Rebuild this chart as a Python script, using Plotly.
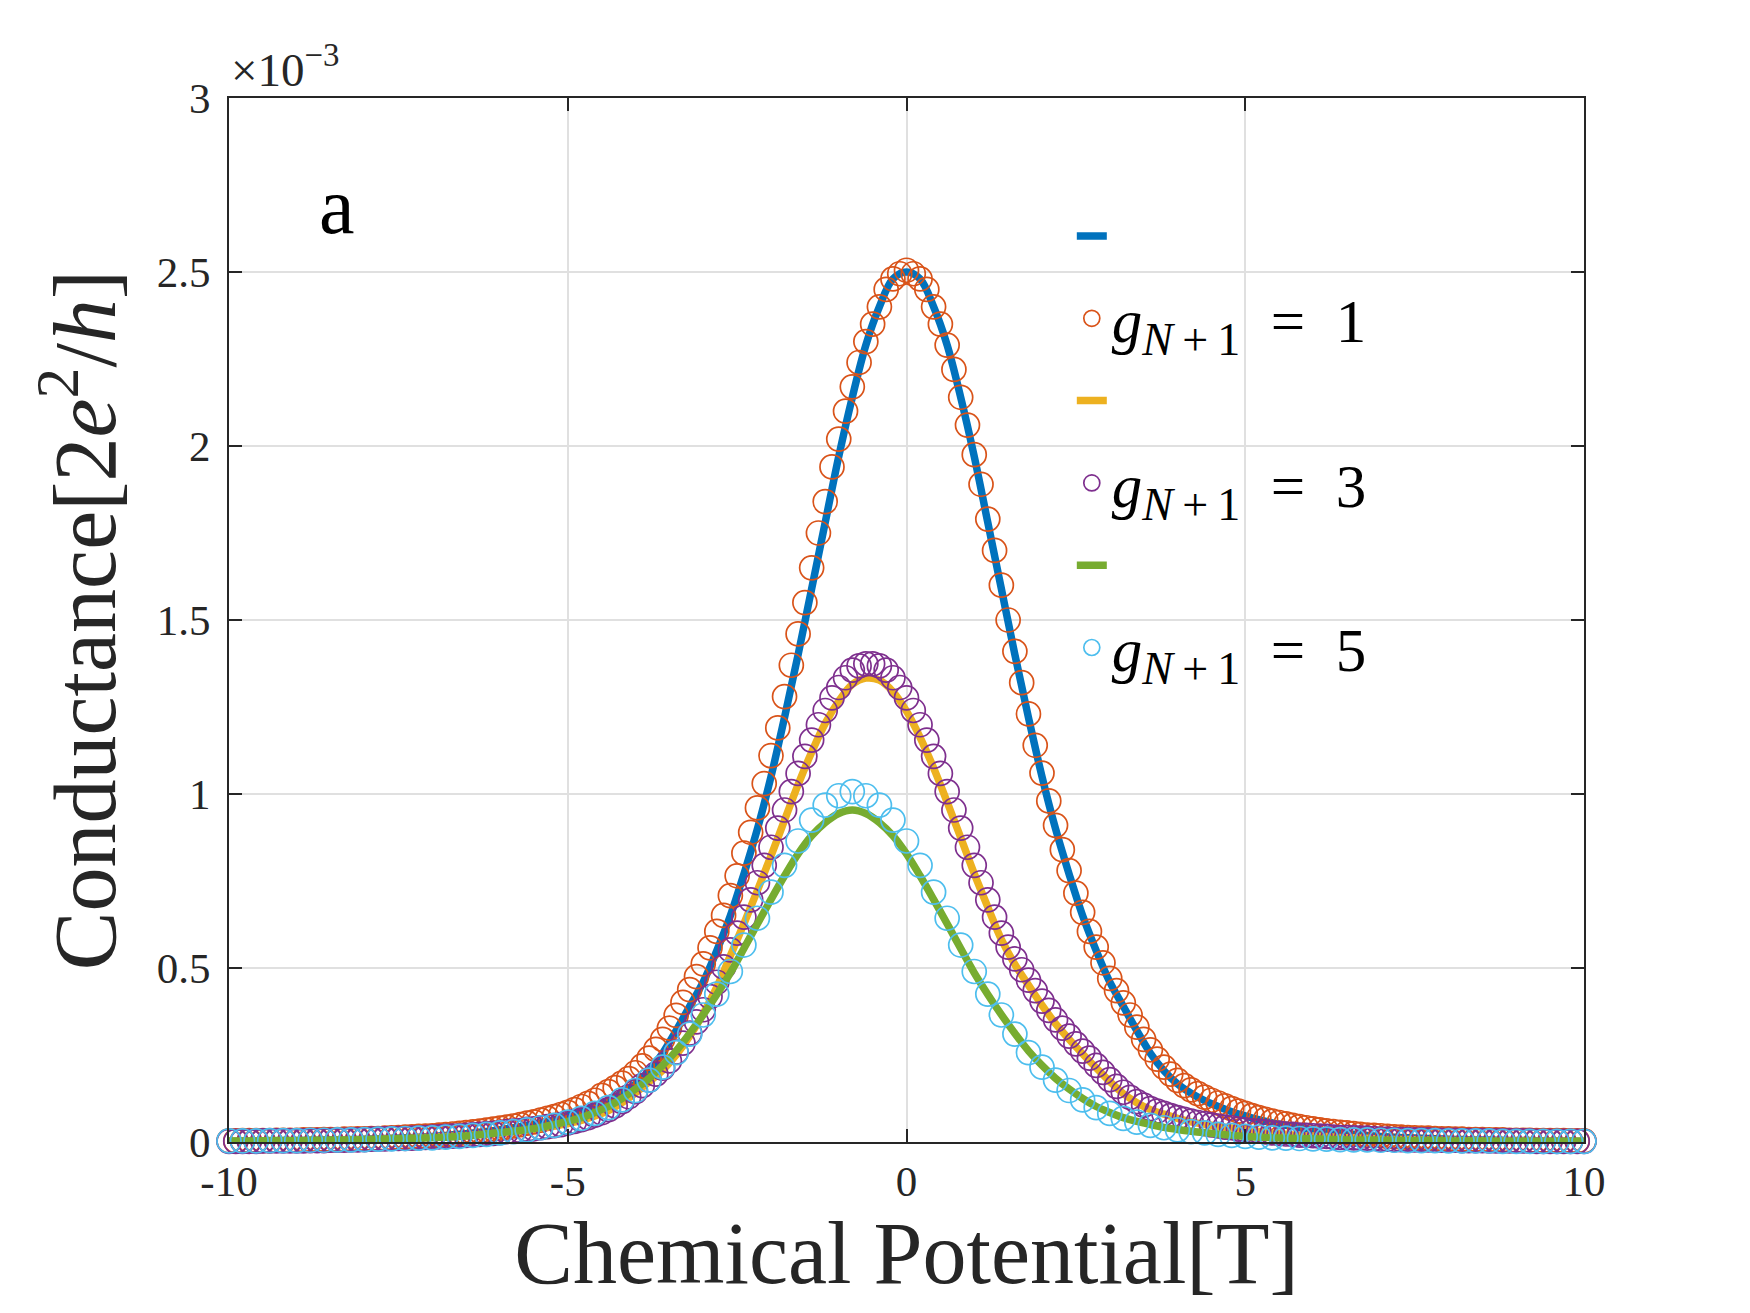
import plotly.graph_objects as go

# ---------------- data (conductance in units of 1e-3 * 2e^2/h) ----------------
x_fine = [round(-10 + 0.1 * i, 1) for i in range(201)]    # marker series grid
x_coarse = [round(-10 + 0.2 * i, 1) for i in range(101)]  # line / cyan grid

# blue line (g=1, line)
blue_line = [
    .002, .003, .003, .003, .004, .004, .005, .006, .006, .007,
    .008, .009, .011, .012, .014, .016, .019, .022, .026, .030,
    .035, .041, .048, .055, .064, .075, .087, .102, .119, .140,
    .167, .205, .255, .320, .390, .460, .550, .650, .770, .900,
    1.050, 1.220, 1.400, 1.590, 1.780, 1.970, 2.140, 2.290, 2.400, 2.480,
    2.500,
    2.480, 2.400, 2.290, 2.140, 1.970, 1.780, 1.590, 1.400, 1.220, 1.050,
    .900, .770, .650, .550, .460, .390, .320, .255, .205, .167,
    .140, .119, .102, .087, .075, .064, .055, .048, .041, .035,
    .030, .026, .022, .019, .016, .014, .012, .011, .009, .008,
    .007, .006, .006, .005, .004, .004, .003, .003, .003, .002,
]

# orange circles (g_{N+1}=1)
orange_mk = [
    .003, .003, .004, .004, .004, .004, .004, .005, .005, .005,
    .005, .006, .006, .006, .007, .007, .007, .008, .008, .009,
    .009, .010, .010, .011, .012, .013, .014, .015, .016, .017,
    .018, .020, .021, .023, .025, .027, .029, .031, .034, .037,
    .040, .043, .046, .050, .054, .058, .063, .068, .073, .079,
    .085, .093, .102, .111, .120, .134, .145, .156, .169, .182,
    .199, .219, .241, .266, .295, .327, .364, .401, .438, .475,
    .512, .558, .605, .651, .708, .765, .830, .890, .960, 1.030,
    1.110, 1.190, 1.280, 1.370, 1.460, 1.550, 1.650, 1.750, 1.840, 1.940,
    2.020, 2.100, 2.170, 2.240, 2.300, 2.350, 2.400, 2.450, 2.480, 2.495,
    2.505, 2.495, 2.480, 2.450, 2.400, 2.350, 2.290, 2.220, 2.140, 2.060,
    1.975, 1.890, 1.790, 1.700, 1.600, 1.500, 1.410, 1.320, 1.230, 1.140,
    1.060, .980, .910, .840, .780, .715, .660, .605, .560, .515,
    .470, .435, .400, .365, .330, .295, .265, .238, .215, .195,
    .177, .162, .150, .139, .129, .120, .112, .104, .096, .089,
    .082, .076, .070, .065, .060, .056, .052, .048, .044, .041,
    .038, .035, .032, .030, .028, .026, .024, .022, .020, .019,
    .018, .016, .015, .014, .013, .012, .011, .011, .010, .009,
    .009, .008, .008, .007, .007, .007, .006, .006, .006, .005,
    .005, .005, .005, .004, .004, .004, .004, .004, .003, .003,
    .003,
]

# yellow line (g=3, line)
yellow_line = [
    .002, .002, .002, .003, .003, .003, .004, .004, .005, .006,
    .007, .008, .010, .010, .012, .014, .016, .017, .020, .023,
    .026, .030, .035, .040, .046, .053, .062, .075, .090, .113,
    .141, .173, .206, .250, .304, .369, .445, .535, .627, .723,
    .822, .925, 1.027, 1.120, 1.203, 1.267, 1.315, 1.333,
    1.327, 1.294, 1.238, 1.163, 1.075, .977, .875, .771, .675, .582,
    .510, .451, .393, .340, .295, .253, .213, .174, .139, .113,
    .093, .080, .068, .058, .051, .045, .040, .034, .030, .025,
    .022, .019, .017, .016, .013, .012, .011, .008, .007, .007,
    .006, .005, .005, .004, .004, .003, .003, .003, .003, .002,
    .002, .002, .002,
]

# purple circles (g_{N+1}=3)
purple_mk = [
    .002, .002, .002, .002, .002, .003, .003, .003, .003, .003,
    .003, .003, .004, .004, .004, .005, .005, .005, .006, .006,
    .007, .008, .008, .009, .010, .010, .010, .011, .012, .013,
    .014, .015, .016, .017, .018, .019, .021, .022, .024, .025,
    .027, .030, .031, .033, .036, .038, .041, .044, .047, .050,
    .055, .059, .064, .070, .077, .084, .093, .104, .116, .130,
    .145, .162, .178, .195, .212, .233, .258, .284, .313, .345,
    .380, .418, .459, .503, .552, .600, .646, .696, .745, .795,
    .847, .902, .954, 1.007, 1.059, 1.108, 1.155, 1.199, 1.240, 1.276,
    1.306, 1.334, 1.356, 1.368, 1.374,
    1.374, 1.368, 1.356, 1.334, 1.306, 1.276, 1.240, 1.199, 1.155, 1.108,
    1.059, 1.007, .954, .902, .847, .795, .745, .696, .646, .600,
    .560, .526, .495, .465, .435, .405, .378, .351, .327, .304,
    .282, .261, .241, .220, .200, .179, .160, .143, .128, .116,
    .106, .096, .089, .082, .076, .070, .065, .060, .056, .053,
    .049, .046, .043, .041, .037, .035, .032, .031, .029, .026,
    .025, .023, .022, .020, .019, .018, .017, .016, .014, .013,
    .013, .012, .011, .011, .010, .008, .008, .007, .007, .007,
    .006, .006, .006, .005, .005, .005, .005, .004, .004, .004,
    .004, .003, .003, .003, .003, .003, .003, .003, .002, .002,
    .002, .002, .002, .002, .002, .002,
]

# green line (g=5, line)
green_line = [
    .003, .003, .003, .004, .004, .004, .005, .005, .006, .006,
    .007, .008, .009, .010, .011, .012, .014, .016, .019, .023,
    .027, .031, .036, .042, .050, .059, .070, .085, .102, .125,
    .152, .183, .220, .262, .312, .366, .424, .486, .556, .627,
    .697, .765, .828, .880, .918, .944,
    .954,
    .944, .918, .880, .828, .765, .697, .627, .556, .486, .424,
    .366, .312, .262, .220, .183, .152, .125, .102, .085, .070,
    .059, .050, .042, .036, .031, .027, .023, .019, .016, .014,
    .012, .011, .010, .009, .008, .007, .006, .006, .005, .005,
    .004, .004, .004, .003, .003, .003, .003, .002, .002, .002,
    .002, .002, .002, .002,
]

# cyan circles (g_{N+1}=5)
cyan_mk = [
    .003, .003, .003, .004, .004, .004, .005, .005, .006, .006,
    .007, .008, .009, .010, .011, .012, .014, .016, .019, .022,
    .026, .030, .035, .041, .048, .057, .068, .082, .099, .121,
    .148, .178, .215, .257, .310, .365, .425, .490, .566, .643,
    .718, .795, .865, .925, .968, .995,
    1.007,
    .995, .968, .925, .865, .795, .718, .643, .566, .490, .425,
    .365, .310, .257, .215, .178, .148, .121, .099, .082, .068,
    .057, .048, .041, .035, .030, .026, .022, .019, .016, .014,
    .012, .011, .010, .009, .008, .007, .006, .006, .005, .005,
    .004, .004, .004, .003, .003, .003, .003, .002, .002, .002,
    .002, .002, .002, .002,
]

x_tickvals = [-10, -5, 0, 5, 10]
x_ticktext = ["-10", "-5", "0", "5", "10"]
y_tickvals = [0, 0.5, 1, 1.5, 2, 2.5, 3]
y_ticktext = ["0", "0.5", "1", "1.5", "2", "2.5", "3"]

NB = "\u00a0"
SUB = "<sub><span style='font-size:46px'><i>N</i>\u2009+\u20091</span></sub>"
EMPTY = NB + "<sub><span style='font-size:46px'>" + NB + "</span></sub>"
leg_names = [
    EMPTY,
    "<i>g</i>" + SUB + NB * 2 + "=" + NB * 2 + "1",
    EMPTY,
    "<i>g</i>" + SUB + NB * 2 + "=" + NB * 2 + "3",
    EMPTY,
    "<i>g</i>" + SUB + NB * 2 + "=" + NB * 2 + "5",
]

C_BLUE, C_ORANGE, C_YELLOW = "#0072BD", "#D95319", "#EDB120"
C_PURPLE, C_GREEN, C_CYAN = "#7E2F8E", "#77AC30", "#4DBEEE"
FONT = "Liberation Serif"
LW = 7.5
MS = 24

fig = go.Figure()
fig.add_trace(go.Scatter(x=x_coarse, y=blue_line, mode="lines", name=leg_names[0],
                         line=dict(color=C_BLUE, width=LW, shape="spline"), cliponaxis=False))
fig.add_trace(go.Scatter(x=x_fine, y=orange_mk, mode="markers", name=leg_names[1],
                         marker=dict(symbol="circle-open", size=MS, color=C_ORANGE,
                                     line=dict(width=1.7, color=C_ORANGE)), cliponaxis=False))
fig.add_trace(go.Scatter(x=x_coarse, y=yellow_line, mode="lines", name=leg_names[2],
                         line=dict(color=C_YELLOW, width=LW, shape="spline"), cliponaxis=False))
fig.add_trace(go.Scatter(x=x_fine, y=purple_mk, mode="markers", name=leg_names[3],
                         marker=dict(symbol="circle-open", size=MS, color=C_PURPLE,
                                     line=dict(width=1.7, color=C_PURPLE)), cliponaxis=False))
fig.add_trace(go.Scatter(x=x_coarse, y=green_line, mode="lines", name=leg_names[4],
                         line=dict(color=C_GREEN, width=LW, shape="spline"), cliponaxis=False))
fig.add_trace(go.Scatter(x=x_coarse, y=cyan_mk, mode="markers", name=leg_names[5],
                         marker=dict(symbol="circle-open", size=MS, color=C_CYAN,
                                     line=dict(width=1.7, color=C_CYAN)), cliponaxis=False))

axis_common = dict(
    showline=True, linecolor="#262626", linewidth=2, mirror="ticks",
    ticks="inside", ticklen=13, tickwidth=2, tickcolor="#262626",
    showgrid=True, gridcolor="#e0e0e0", gridwidth=1.5, zeroline=False,
    tickfont=dict(family=FONT, size=43, color="#262626"),
)

fig.update_layout(
    width=1750, height=1313,
    margin=dict(l=229, r=166, t=98, b=171),
    paper_bgcolor="white", plot_bgcolor="white",
    showlegend=True,
    legend=dict(x=0.622, xanchor="left", y=0.912, yanchor="top",
                bgcolor="rgba(0,0,0,0)", borderwidth=0,
                font=dict(family=FONT, size=61, color="black"),
                tracegroupgap=0, itemwidth=30),
    xaxis=dict(range=[-10, 10], tickvals=x_tickvals, ticktext=x_ticktext,
               title=dict(text="Chemical Potential[T]",
                          font=dict(family=FONT, size=88, color="#262626"), standoff=12),
               **axis_common),
    yaxis=dict(range=[0, 3], tickvals=y_tickvals, ticktext=y_ticktext,
               ticklabelstandoff=8,
               title=dict(text="Conductance[2<i>e</i><sup>2</sup>/<i>h</i>]",
                          font=dict(family=FONT, size=88, color="#262626"), standoff=12),
               **axis_common),
    annotations=[
        dict(x=-8.4, y=2.69, xref="x", yref="y", text="a", showarrow=False,
             font=dict(family=FONT, size=80, color="black")),
        dict(x=0, y=1, xref="paper", yref="paper", xanchor="left", yanchor="bottom",
             text="\u00d710<sup>\u22123</sup>", showarrow=False, yshift=0,
             font=dict(family=FONT, size=47, color="#262626")),
    ],
    hovermode=False,
)

fig.write_html("out.html")
